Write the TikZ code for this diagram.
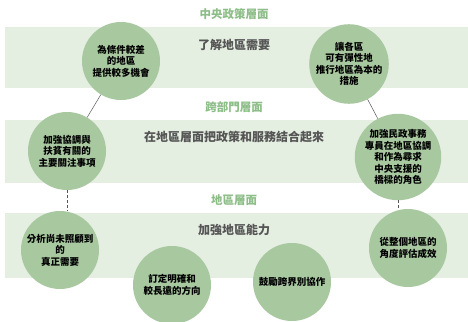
\documentclass[tikz,border=0pt]{standalone}
\usepackage{fontspec}
\setmainfont{Noto Sans CJK TC}
\definecolor{bandc}{HTML}{E4EEE1}
\definecolor{circc}{HTML}{A8C8A0}
\definecolor{titlec}{HTML}{8DBE88}
\definecolor{bandtext}{HTML}{555555}
\definecolor{linec}{HTML}{555555}
\tikzset{
  bub/.style={circle, fill=circc, minimum size=78pt, inner sep=0pt, align=center,
    font=\bfseries\fontsize{9.5}{11.5}\selectfont, text=black},
  leveltitle/.style={font=\bfseries\fontsize{11.5}{13}\selectfont, text=titlec},
  bandlabel/.style={font=\bfseries\fontsize{12}{14}\selectfont, text=bandtext},
  band/.style={fill=bandc},
  solidlink/.style={draw=linec, line width=0.5pt},
  dashlink/.style={draw=linec, line width=0.6pt, dash pattern=on 2.5pt off 2.5pt}
}
\begin{document}
\begin{tikzpicture}[x=1pt,y=-1pt]
\useasboundingbox (0,0) rectangle (468,321);
\fill[white] (0,0) rectangle (468,321);
% bands
\fill[band] (5,27) rectangle (468,88);
\fill[band] (5,120) rectangle (468,183);
\fill[band] (5,213) rectangle (468,278);
% level titles
\node[leveltitle] (t1) at (234,14) {中央政策層面};
\node[leveltitle] (t2) at (234,107) {跨部門層面};
\node[leveltitle] (t3) at (234,200) {地區層面};
% band labels
\node[bandlabel] (b1) at (234,45) {了解地區需要};
\node[bandlabel] (b2) at (234,137) {在地區層面把政策和服務結合起來};
\node[bandlabel] (b3) at (234,230) {加強地區能力};
% circles
\node[bub] (tl) at (121,61) {為條件較差\\的地區\\提供較多機會};
\node[bub] (tr) at (349,64) {讓各區\\可有彈性地\\推行地區為本的\\措施};
\node[bub] (ml) at (67,151) {加強協調與\\扶貧有關的\\主要關注事項};
\node[bub] (mr) at (398,157) {加強民政事務\\專員在地區協調\\和作為尋求\\中央支援的\\橋樑的角色};
\node[bub] (bl) at (60,250) {分析尚未照顧到\\的\\真正需要};
\node[bub] (b2c) at (172,285) {訂定明確和\\較長遠的方向};
\node[bub] (b3c) at (292,282) {鼓勵跨界別協作};
\node[bub] (br) at (408,248) {從整個地區的\\角度評估成效};
% connectors
\draw[solidlink] (tl) -- (ml);
\draw[solidlink] (tr) -- (mr);
\draw[dashlink] (ml.south) -- (ml.south |- bl.north);
\draw[dashlink] (mr.south) -- (mr.south |- br.north);
\end{tikzpicture}
\end{document}
